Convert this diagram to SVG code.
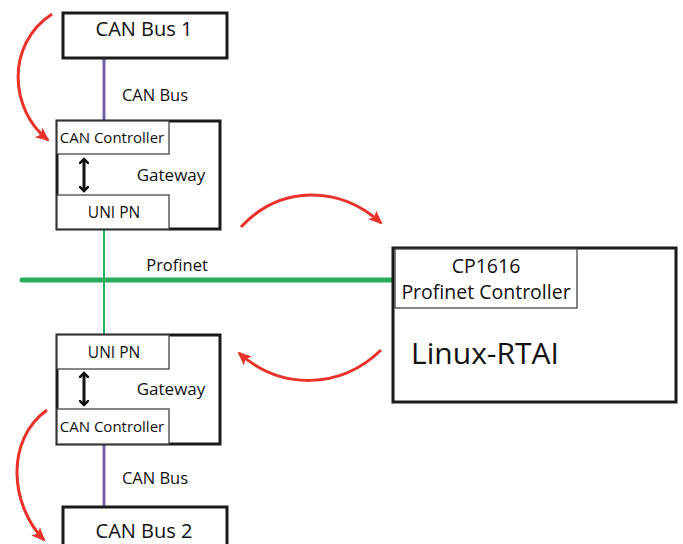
<svg xmlns="http://www.w3.org/2000/svg" width="683" height="544" viewBox="0 0 683 544">
<defs>
<style>
.box{fill:#fff;stroke:#1a1a1a;stroke-width:3}
.inner{fill:#fff;stroke:#444;stroke-width:1.3}
.t{font-family:"Open Sans","Noto Sans",sans-serif;fill:#111;text-anchor:middle}
.can{stroke:#7563a8;stroke-width:3;fill:none}
.pn{stroke:#27b058;fill:none}
.red{stroke:#e8322a;stroke-width:3;fill:none;marker-end:url(#ah)}
.dbl{stroke:#111;stroke-width:3;fill:none;marker-start:url(#bk);marker-end:url(#bk)}
</style>
<marker id="ah" viewBox="0 0 14 12" refX="12" refY="6" markerWidth="14" markerHeight="12" markerUnits="userSpaceOnUse" orient="auto" overflow="visible">
<path d="M0,0 L14,6 L0,12 L3,6 Z" fill="#e8322a"/>
</marker>
<marker id="bk" viewBox="0 0 10 10" refX="5" refY="5" markerWidth="10" markerHeight="10" markerUnits="userSpaceOnUse" orient="auto-start-reverse">
<path d="M0,0 L5,5 L0,10" fill="none" stroke="#111" stroke-width="2.5"/>
</marker>
</defs>
<g id="connectors">
<line class="can" x1="104" y1="58" x2="104" y2="121"/>
<line class="pn" stroke-width="2" x1="104" y1="229" x2="104" y2="280"/>
<line class="pn" stroke-width="2" x1="104" y1="280" x2="104" y2="335"/>
<line class="pn" stroke-width="5" x1="22" y1="280" x2="393" y2="280" stroke-linecap="round"/>
<line class="can" x1="104" y1="444" x2="104" y2="507"/>
<text class="t" x="155" y="101" font-size="16.5">CAN Bus</text>
<text class="t" x="177" y="271" font-size="16.5">Profinet</text>
<text class="t" x="155" y="484" font-size="16.5">CAN Bus</text>
<path class="red" d="M52,14 C5,45 10,110 48,140"/>
<path class="red" d="M47,410 C5,440 10,505 44,540"/>
<path class="red" d="M241,227 C280,185 340,185 381,223"/>
<path class="red" d="M381,350 C340,390 280,390 239,353"/>
</g>
<g id="canbus1">
<rect class="box" x="63" y="13" width="164" height="45"/>
<text class="t" x="144" y="36" font-size="20">CAN Bus 1</text>
</g>
<g id="gateway1">
<rect class="box" x="57" y="121" width="163" height="108"/>
<rect class="inner" x="57" y="121" width="112" height="33"/>
<text class="t" x="112" y="143" font-size="15">CAN Controller</text>
<rect class="inner" x="57" y="195" width="112" height="34"/>
<text class="t" x="114" y="218" font-size="15.5">UNI PN</text>
<text class="t" x="171" y="181" font-size="17">Gateway</text>
<line class="dbl" x1="84" y1="159" x2="84" y2="191"/>
</g>
<g id="gateway2">
<rect class="box" x="57" y="335" width="163" height="109"/>
<rect class="inner" x="57" y="335" width="112" height="34"/>
<text class="t" x="114" y="358" font-size="15.5">UNI PN</text>
<rect class="inner" x="57" y="409" width="112" height="35"/>
<text class="t" x="112" y="432" font-size="15">CAN Controller</text>
<text class="t" x="171" y="395" font-size="17">Gateway</text>
<line class="dbl" x1="84" y1="373" x2="84" y2="405"/>
</g>
<g id="canbus2">
<rect class="box" x="63" y="507" width="164" height="45"/>
<text class="t" x="144" y="538" font-size="20">CAN Bus 2</text>
</g>
<g id="linux">
<rect class="box" x="393" y="248" width="283" height="154"/>
<rect class="inner" x="395" y="249" width="182" height="59"/>
<text class="t" x="486" y="273" font-size="19.5">CP1616</text>
<text class="t" x="486" y="299" font-size="19.5">Profinet Controller</text>
<text class="t" x="485" y="364" font-size="30">Linux-RTAI</text>
</g>
</svg>
